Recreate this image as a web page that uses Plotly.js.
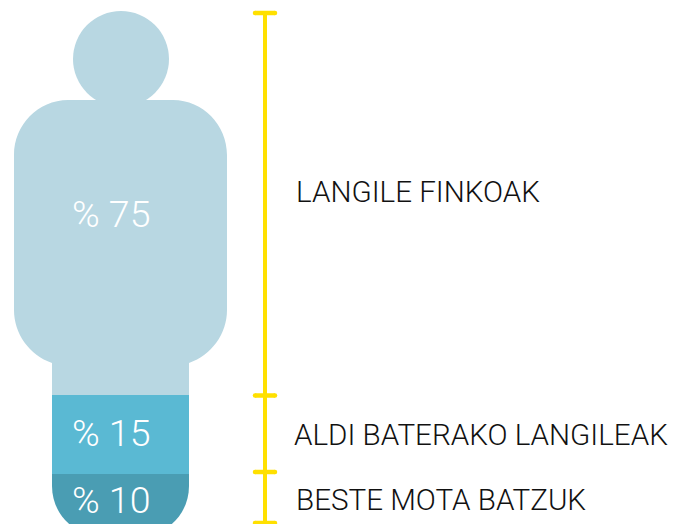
<!DOCTYPE html>
<html>
<head>
<meta charset="utf-8">
<script src="https://cdn.plot.ly/plotly-3.0.1.min.js"></script>
<style>html,body{margin:0;padding:0;background:#fff}</style>
</head>
<body>
<div id="chart" style="width:675px;height:524px"></div>
<script>
const categories = ["LANGILE FINKOAK", "ALDI BATERAKO LANGILEAK", "BESTE MOTA BATZUK"];
const shares = [75, 15, 10];
const shareLabels = ["% 75", "% 15", "% 10"];
const colors = ["#B8D7E2", "#5AB9D3", "#4A9DB3"];

const W = 675, H = 524;
const Y0 = 523, PX_PER_PCT = 5.1;          // 0% at px 523, 100% at px 13
const py = p => (Y0 - p) / PX_PER_PCT;     // pixel row -> percent
const yRange = [py(H), py(0)];

const cum25 = shares[1] + shares[2];
const cum10 = shares[2];
const bandMid = Y0 - cum25 * PX_PER_PCT - 0.5;
const bandLow = Y0 - cum10 * PX_PER_PCT + 2;

const pth = cmds => cmds.map(c => c[0] + c.slice(1).map((v, i) => i % 2 ? py(v) : v).join(",").replace(/,/g, " ")).join(" ");

// silhouette
const body = pth([
  ["M",52,bandMid],["L",52,363],
  ["C",29.4,355,14,334,14,310],
  ["L",14,155],
  ["C",14,125,38,100,68,100],
  ["L",173,100],
  ["C",203,100,227,125,227,155],
  ["L",227,310],
  ["C",227,334,211.6,355,189,363],
  ["L",189,bandMid],["Z"]
]);
const mid = pth([["M",52,bandMid],["L",189,bandMid],["L",189,bandLow],["L",52,bandLow],["Z"]]);
const low = pth([
  ["M",52,bandLow],["L",189,bandLow],["L",189,486],
  ["C",189,514,167,536,139,536],
  ["L",102,536],
  ["C",74,536,52,514,52,486],["Z"]
]);
const shapes = [
  {type:"circle",xref:"x",yref:"y",x0:73,x1:169,y0:py(11),y1:py(107),fillcolor:colors[0],line:{width:0},layer:"below"},
  {type:"path",xref:"x",yref:"y",path:body,fillcolor:colors[0],line:{width:0},layer:"below"},
  {type:"path",xref:"x",yref:"y",path:mid,fillcolor:colors[1],line:{width:0},layer:"below"},
  {type:"path",xref:"x",yref:"y",path:low,fillcolor:colors[2],line:{width:0},layer:"below"}
];

const yellow = "#FFE000";
const levels = [100, cum25, cum10, 0];
const traces = [];
traces.push({x:[265,265],y:[0,100],mode:"lines",line:{color:yellow,width:4},hoverinfo:"skip"});
levels.forEach(l => traces.push({
  x:[255,275],y:[l,l],mode:"lines+markers",
  line:{color:yellow,width:4.5},marker:{color:yellow,size:4.5},hoverinfo:"skip"
}));
traces.push({
  x:[72,72,72],y:[py(218),py(437),py(504)],mode:"text",text:shareLabels,
  textposition:"middle right",
  textfont:{family:"Roboto, sans-serif",size:37.5,color:"#FFFFFF",weight:300},hoverinfo:"skip"
});
traces.push({
  x:[296,294,296],y:[py(195),py(438),py(503)],mode:"text",text:categories,
  textposition:"middle right",
  textfont:{family:"Roboto, sans-serif",size:29.6,color:"#111111",weight:300},hoverinfo:"skip"
});

Plotly.newPlot("chart", traces, {
  width:W,height:H,margin:{l:0,r:0,t:0,b:0},
  paper_bgcolor:"#fff",plot_bgcolor:"#fff",showlegend:false,
  xaxis:{range:[0,W],visible:false,fixedrange:true},
  yaxis:{range:yRange,visible:false,fixedrange:true},
  shapes:shapes
},{displayModeBar:false,staticPlot:true});
</script>
</body>
</html>
